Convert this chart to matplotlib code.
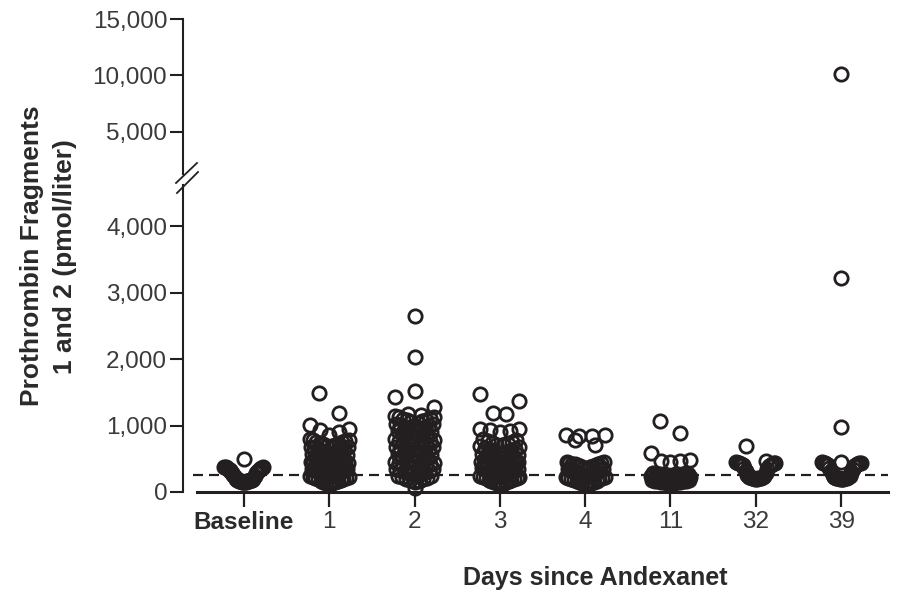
import numpy as np
import matplotlib
matplotlib.use('Agg')
import matplotlib.pyplot as plt
from matplotlib.lines import Line2D

plt.rcParams['font.family'] = ['Liberation Sans', 'DejaVu Sans']

INK = '#231f20'
TXT = '#3a3a3a'

# categories on the x axis
days = ['Baseline', '1', '2', '3', '4', '11', '32', '39']

# prothrombin fragments 1+2 (pmol/liter)
baseline = [150, 152, 155, 157, 160, 162, 165, 167, 170, 172, 175, 177, 180, 182,
            185, 188, 200, 220, 240, 260, 280, 290, 300, 308, 316, 324, 331, 338,
            344, 350, 355, 360, 365, 370, 374, 378, 495]
day1 = [115, 124, 131, 140, 147, 156, 163, 172, 180, 188, 196, 204, 212, 221, 229,
        237, 245, 253, 262, 270, 278, 286, 294, 302, 310, 318, 326, 334, 342, 350,
        358, 366, 374, 381, 389, 396, 403, 410, 417, 424, 430, 436, 442, 447,
        462, 471, 480, 490, 499, 509, 518, 528, 537, 547, 556, 566, 575, 585, 594,
        604, 613, 623, 632, 642, 651, 661, 670, 680, 689, 699, 708, 718, 727, 737,
        746, 756, 766, 776, 786, 796,
        855, 900, 930, 944, 1004, 1184, 1483]
day2 = [60,
        150, 161, 171, 181, 192, 202, 213, 223, 234, 244, 255, 265, 276, 286, 297,
        307, 318, 328, 339, 349, 360, 370, 381, 391, 401, 411, 421, 430, 439, 447,
        463, 474, 486, 497, 509, 520, 532, 543, 555, 566, 578, 589, 601, 612, 624,
        635, 647, 658, 670, 681, 693, 704, 716, 727, 739, 750, 762, 773, 785, 796,
        812, 823, 835, 846, 858, 869, 881, 892, 904, 915, 927, 938, 950, 961, 973,
        984, 996, 1007, 1019, 1030, 1042, 1053, 1065, 1076, 1088, 1099, 1111, 1122,
        1134, 1145,
        1165, 1180, 1275, 1425, 1515, 2025, 2640]
day3 = [110, 119, 127, 136, 144, 153, 161, 170, 178, 187, 195, 204, 212, 221, 229,
        238, 246, 255, 263, 272, 280, 289, 297, 306, 314, 323, 331, 340, 348, 357,
        365, 374, 382, 390, 398, 406, 413, 420, 427, 433, 438, 442, 446, 449,
        460, 472, 484, 496, 508, 520, 532, 544, 556, 568, 580, 592, 604, 616, 628,
        640, 652, 664, 676, 688, 700, 712, 724, 736, 750, 764, 778, 793,
        905, 918, 930, 940, 950, 1180, 1190, 1365, 1470]
day4 = [104, 112, 121, 129, 138, 146, 155, 163, 172, 180, 189, 197, 206, 214, 223,
        231, 240, 248, 257, 265, 274, 282, 291, 299, 308, 316, 325, 333, 342, 350,
        359, 367, 376, 384, 392, 400, 408, 415, 422, 428, 434, 439, 444, 448,
        700, 785, 835, 845, 855, 862]
day11 = [132, 135, 138, 141, 144, 147, 150, 154, 158, 162, 166, 170, 174, 178, 182,
         186, 190, 194, 198, 202, 206, 210, 214, 218, 222, 226, 230, 234, 238, 242,
         246, 250, 254, 258, 262, 266, 270, 274, 278, 282,
         455, 460, 470, 480, 585, 885, 1065]
day32 = [200, 203, 206, 209, 212, 215, 218, 222, 226, 232, 240, 255, 280, 310, 340,
         365, 385, 400, 412, 420, 427, 432, 436, 439, 442, 445, 465, 690]
day39 = [195, 198, 201, 204, 207, 210, 214, 218, 223, 230, 240, 255, 280, 310, 340,
         365, 385, 400, 412, 420, 427, 432, 436, 439, 442, 446, 455, 975, 3220, 10150]
groups = [baseline, day1, day2, day3, day4, day11, day32, day39]

upper_ticks = [5000, 10000, 15000]
upper_labels = ['5,000', '10,000', '15,000']
lower_ticks = [0, 1000, 2000, 3000, 4000]
lower_labels = ['0', '1,000', '2,000', '3,000', '4,000']
uln = 250          # dashed reference line
split = 5000       # values above go to the upper panel

# how many passes each column's rows are filled in (1 = clean U shape)
passes = [1, 3, 3, 3, 3, 3, 1, 1]


def spread(vals, px_per_x, layers=1, bin0=100, bin_h=350, step0=20, wmax=39):
    # prism-like scatter: values binned in rows, lower values towards the middle
    vals = np.asarray(vals, float)
    bins = np.floor((vals - bin0) / bin_h)
    offs = np.zeros(len(vals))
    for b in np.unique(bins):
        idx = np.where(bins == b)[0]
        idx = idx[np.argsort(vals[idx], kind='stable')]
        n = len(idx)
        if n == 1:
            continue
        step = min(step0, wmax / (n - 1))
        slots = (np.arange(n) - (n - 1) / 2) * step
        order = np.lexsort((-slots, np.abs(slots)))
        k = np.arange(n)
        layer = (k // 2) % layers if n > 6 else np.zeros(n, int)
        order = order[np.lexsort((k, layer))]
        offs[idx] = slots[order]
    return offs / px_per_x


W, H = 897, 595
fig = plt.figure(figsize=(W / 100, H / 100), dpi=100)
left, right = 183 / W, 888 / W
ax_top = fig.add_axes([left, 1 - 174 / H, right - left, (174 - 19) / H])
ax = fig.add_axes([left, 1 - 492 / H, right - left, (492 - 185) / H])

xlim = (-0.715, 7.55)
for a in (ax, ax_top):
    a.set_xlim(*xlim)
    a.patch.set_visible(False)
    a.spines['top'].set_visible(False)
    a.spines['right'].set_visible(False)
    a.spines['left'].set_linewidth(1.5)
    a.spines['left'].set_color(INK)
    a.tick_params(axis='y', length=9.4, width=1.5, color=INK, labelsize=17.5,
                  labelcolor=TXT, pad=2)

ax_top.set_ylim(1244, 15000)
ax_top.spines['bottom'].set_visible(False)
ax_top.set_xticks([])
ax_top.set_yticks(upper_ticks)
ax_top.set_yticklabels(upper_labels)

ax.set_ylim(0, 4617)
ax.set_yticks(lower_ticks)
ax.set_yticklabels(lower_labels)
ax.spines['bottom'].set_bounds(-0.551, 7.55)
ax.spines['bottom'].set_linewidth(2.2)
ax.spines['bottom'].set_color(INK)
ax.set_xticks(range(len(days)))
ax.set_xticklabels(days)
ax.tick_params(axis='x', length=11, width=1.6, color=INK, labelsize=17.5,
               labelcolor=TXT, pad=3)
ax.get_xticklabels()[0].set_fontweight('bold')
ax.get_xticklabels()[0].set_color('#2a2a2a')

px_per_x = (right - left) * W / (xlim[1] - xlim[0])

ax.plot([-0.6, 7.55], [uln, uln], ls=(0, (4.5, 2.7)), lw=1.6, color=INK,
        clip_on=False, zorder=2)

for i, vals in enumerate(groups):
    v = np.asarray(vals, float)
    x = i + spread(v, px_per_x, layers=passes[i])
    lo = v < split
    kw = dict(ls='none', marker='o', ms=9.6, mfc='none', mec=INK, mew=2,
              clip_on=False, zorder=3)
    ax.plot(x[lo], v[lo], **kw)
    ax_top.plot(x[~lo], v[~lo], **kw)

# axis break marks
for (x0, y0, x1, y1) in [(176, 183, 197, 163), (177, 193, 198, 172)]:
    fig.add_artist(Line2D([x0 / W, x1 / W], [1 - y0 / H, 1 - y1 / H],
                          transform=fig.transFigure, lw=1.3, color=INK))

fig.text(32 / W, 1 - 256 / H, 'Prothrombin Fragments', rotation=90, ha='center',
         va='center', fontsize=19, fontweight='bold', color='#2a2a2a')
fig.text(65 / W, 1 - 257 / H, '1 and 2 (pmol/liter)', rotation=90, ha='center',
         va='center', fontsize=19, fontweight='bold', color='#2a2a2a')
fig.text(595 / W, 1 - 578 / H, 'Days since Andexanet', ha='center', va='center',
         fontsize=18, fontweight='bold', color='#2a2a2a')

fig.savefig('out.png', dpi=100)
